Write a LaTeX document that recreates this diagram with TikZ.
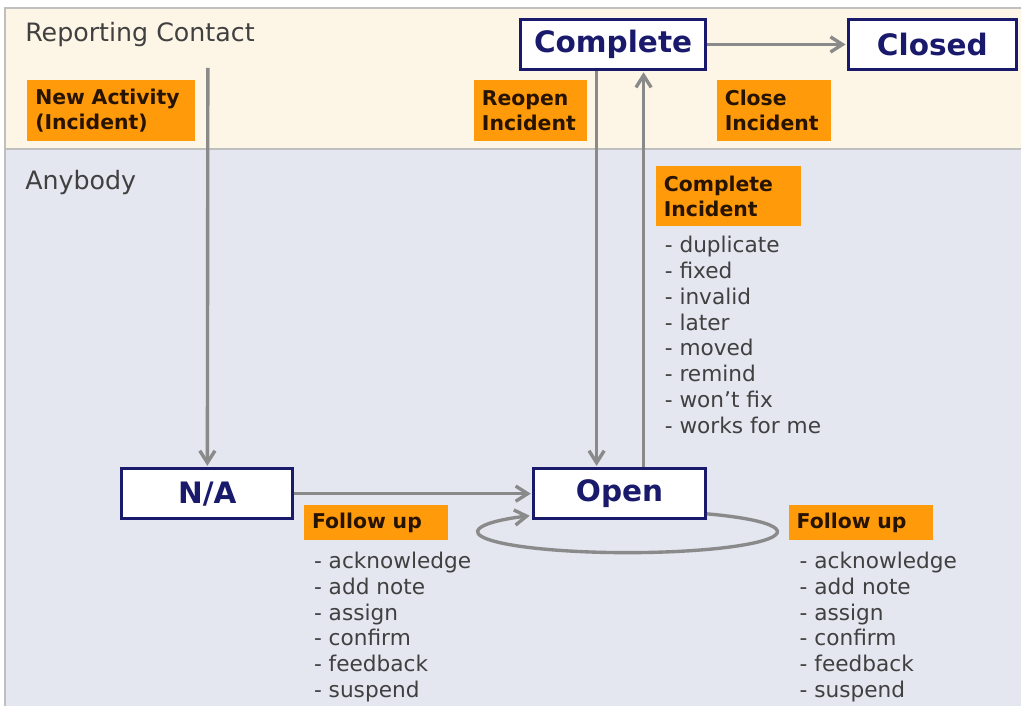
\documentclass[tikz,border=0pt]{standalone}
\usepackage{fontspec}
\setmainfont{DejaVu Sans}
\usetikzlibrary{positioning, arrows.meta}

\definecolor{laneTop}{HTML}{FDF6E6}
\definecolor{laneBottom}{HTML}{E4E6F0}
\definecolor{stateBlue}{HTML}{1A1A6C}
\definecolor{tagOrange}{HTML}{FF9A0A}
\definecolor{flowGray}{HTML}{8A8A8A}

\begin{document}
\begin{tikzpicture}[x=0.025cm, y=0.025cm,
  % State boxes
  state/.style={rectangle, draw=stateBlue, line width=2pt, fill=white, text=stateBlue, minimum height=1.25cm, inner sep=0pt, font=\fontsize{21}{24}\selectfont\bfseries},
  % Orange action labels
  tag/.style={rectangle, fill=tagOrange, anchor=north west, align=left, inner xsep=0.2cm, inner ysep=0pt, text=black!85!orange, font=\fontsize{14.5}{17.7}\selectfont\bfseries},
  % Lists of reasons
  items/.style={anchor=north west, align=left, inner sep=0pt, text=black!75, font=\fontsize{15.4}{18.4}\selectfont},
  lane/.style={anchor=north west, inner sep=0pt, text=black!75, font=\fontsize{18}{21}\selectfont},
  % Arrows
  flow/.style={-{Straight Barb[length=3mm,width=3.8mm]}, line width=2.4pt, flowGray, shorten >=1pt}
]

% Swim lanes
\fill[white] (0,0) rectangle (1022,-706);
\fill[laneTop] (5,-8) rectangle (1022,-148);
\fill[laneBottom] (5,-150) rectangle (1022,-706);
\draw[black!25, line width=1pt] (1022,-8) -- (5,-8) -- (5,-706);
\draw[black!25, line width=1pt] (5,-149) -- (1022,-149);
\node[lane] (reporter) at (25,-22) {Reporting Contact};
\node[lane] (anybody) at (25,-170) {Anybody};

% States
\node[state, minimum width=4.625cm] (Complete) at (613.5,-44.5) {Complete};
\node[state, minimum width=4.2cm] (Closed) at (933,-44.5) {Closed};
\node[state, minimum width=4.275cm] (NA) at (207.5,-494) {N/A};
\node[state, minimum width=4.3cm] (Open) at (620,-494) {Open};

% Labels
\node[tag, text width=3.8cm, minimum height=1.525cm] (newAct) at (27,-80) {New Activity\\(Incident)};
\node[tag, text width=2.425cm, minimum height=1.525cm] (reopen) at (474,-80) {Reopen\\Incident};
\node[tag, text width=2.45cm, minimum height=1.525cm] (close) at (717,-80) {Close\\Incident};
\node[tag, text width=3.225cm, minimum height=1.5cm] (doneTag) at (656,-166) {Complete\\Incident};
\node[tag, text width=3.2cm, minimum height=0.875cm] (followA) at (304,-505) {Follow up};
\node[tag, text width=3.2cm, minimum height=0.875cm] (followB) at (789,-505) {Follow up};

\node[items] (doneList) at (665,-236) {- duplicate\\- fixed\\- invalid\\- later\\- moved\\- remind\\- won't fix\\- works for me};
\node[items] (followListA) at (314,-552) {- acknowledge\\- add note\\- assign\\- confirm\\- feedback\\- suspend};
\node[items] (followListB) at (800,-552) {- acknowledge\\- add note\\- assign\\- confirm\\- feedback\\- suspend};

% Transitions
\coordinate (start) at (208,-68);
\coordinate (reopenX) at (597,0);
\coordinate (doneX) at (644,0);
\draw[flow] (start) -- (NA.north);
\draw[flow] (Complete) -- (Closed);
\draw[flow] (NA) -- (Open);
\draw[flow] (Complete.south -| reopenX) -- (Open.north -| reopenX);
\draw[flow] (Open.north -| doneX) -- (Complete.south -| doneX);
\draw[flow] ([yshift=-0.505cm]Open.east) arc[start angle=58, end angle=-230, x radius=3.75cm, y radius=0.525cm];

\end{tikzpicture}
\end{document}
